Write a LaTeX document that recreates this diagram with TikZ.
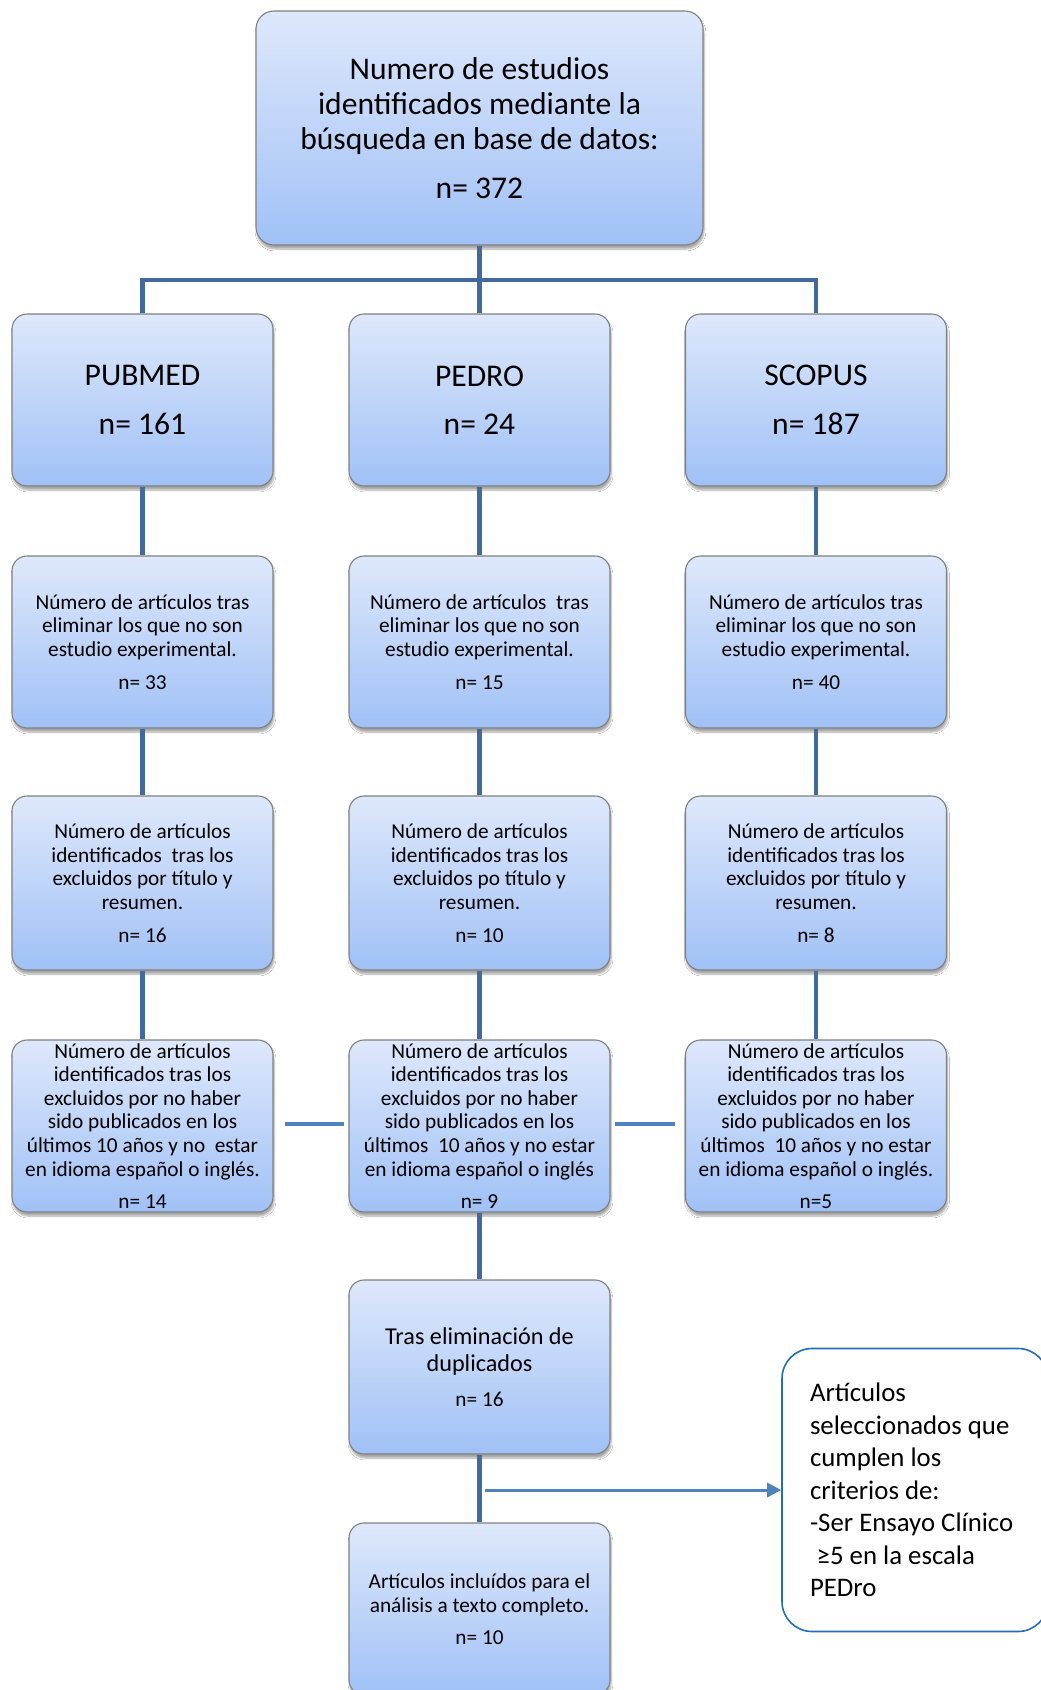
\documentclass[tikz,border=0pt]{standalone}
\usepackage{fontspec}
\setmainfont{Carlito}
\usetikzlibrary{shadows.blur,arrows.meta}
\definecolor{boxtop}{RGB}{222,232,251}
\definecolor{boxbot}{RGB}{160,193,246}
\definecolor{boxline}{RGB}{128,128,128}
\definecolor{conncol}{RGB}{66,106,156}
\definecolor{arrcol}{RGB}{79,129,189}
\definecolor{sidecol}{RGB}{36,110,185}
\tikzset{
  fbox/.style={draw=boxline, line width=1.1pt, rounded corners=15pt,
    top color=boxtop, bottom color=boxbot, align=center, inner sep=0pt,
    minimum width=261pt, minimum height=172pt,
    blur shadow={shadow xshift=1pt, shadow yshift=-4pt, shadow blur steps=6, shadow opacity=35}},
  big/.style={font=\fontsize{31.6}{35}\selectfont},
  small/.style={font=\fontsize{21.3}{23.6}\selectfont},
  conn/.style={draw=conncol, line width=4.5pt},
  lconn/.style={draw=arrcol, line width=4pt},
  side/.style={draw=sidecol, line width=1.6pt, rounded corners=30pt, fill=white,
    minimum width=266pt, minimum height=283pt, inner sep=0pt, align=flush left, text width=210pt,
    font=\fontsize{26.8}{32.5}\selectfont}
}
\begin{document}
\begin{tikzpicture}[x=1pt,y=-1pt]
\useasboundingbox (0,0) rectangle (1041,1690);
\clip (0,0) rectangle (1041,1690);
\fill[white] (0,0) rectangle (1041,1690);

\node[fbox, big, minimum width=447pt, minimum height=234pt, rounded corners=18pt] (top) at (479.5,128)
  {Numero de estudios\\identificados mediante la\\búsqueda en base de datos:\\[13.5pt]n= 372};

\node[fbox, big] (r1a) at (142.5,400) {PUBMED\\[13.5pt]n= 161};
\node[fbox, big] (r1b) at (479.5,400) {PEDRO\\[13.5pt]n= 24};
\node[fbox, big] (r1c) at (816,400) {SCOPUS\\[13.5pt]n= 187};

\node[fbox, small] (r2a) at (142.5,642) {Número de artículos tras\\eliminar los que no son\\estudio experimental.\\[9.5pt]n= 33};
\node[fbox, small] (r2b) at (479.5,642) {Número de artículos\ \ tras\\eliminar los que no son\\estudio experimental.\\[9.5pt]n= 15};
\node[fbox, small] (r2c) at (816,642) {Número de artículos tras\\eliminar los que no son\\estudio experimental.\\[9.5pt]n= 40};

\node[fbox, small, minimum height=174pt] (r3a) at (142.5,883) {Número de artículos\\identificados\ \ tras los\\excluidos por título y\\resumen.\\[9pt]n= 16};
\node[fbox, small, minimum height=174pt] (r3b) at (479.5,883) {Número de artículos\\identificados tras los\\excluidos po título y\\resumen.\\[9pt]n= 10};
\node[fbox, small, minimum height=174pt] (r3c) at (816,883) {Número de artículos\\identificados tras los\\excluidos por título y\\resumen.\\[9pt]n= 8};

\node[fbox, small] (r4a) at (142.5,1126) {Número de artículos\\identificados tras los\\excluidos por no haber\\sido publicados en los\\últimos 10 años y no\ \ estar\\en idioma español o inglés.\\[9pt]n= 14};
\node[fbox, small] (r4b) at (479.5,1126) {Número de artículos\\identificados tras los\\excluidos por no haber\\sido publicados en los\\últimos\ \ 10 años y no estar\\en idioma español o inglés\\[9pt]n= 9};
\node[fbox, small] (r4c) at (816,1126) {Número de artículos\\identificados tras los\\excluidos por no haber\\sido publicados en los\\últimos\ \ 10 años y no estar\\en idioma español o inglés.\\[9pt]n=5};

\node[fbox, minimum height=174pt, font=\fontsize{24.2}{27}\selectfont] (dup) at (479.5,1367)
  {Tras eliminación de\\duplicados\\[8.6pt]\fontsize{21.3}{27}\selectfont n= 16};

\node[fbox, small] (fin) at (479.5,1609) {Artículos incluídos para el\\análisis a texto completo.\\[8.6pt]n= 10};

\node[side] (crit) at (915,1490) {Artículos\\seleccionados que\\cumplen los\\criterios de:\\-Ser Ensayo Clínico\\\hspace*{0.25em}≥5 en la escala\\PEDro};

% connectors
\coordinate (j) at (479.5,280);
\draw[conn] (top.south) -- (r1b.north);
\draw[conn] (r1a.north) |- (j) -| (r1c.north);
\foreach \c in {a,b,c}{
  \draw[conn] (r1\c.south) -- (r2\c.north);
  \draw[conn] (r2\c.south) -- (r3\c.north);
  \draw[conn] (r3\c.south) -- (r4\c.north);
}
\draw[conn] (r4b.south) -- (dup.north);
\draw[conn] (dup.south) -- (fin.north);
\draw[lconn, shorten <=11pt, shorten >=4pt] ([yshift=2pt]r4a.east) -- ([yshift=2pt]r4b.west);
\draw[lconn, shorten <=4pt, shorten >=10pt] ([yshift=2pt]r4b.east) -- ([yshift=2pt]r4c.west);
\coordinate (as) at (485,1490);
\draw[draw=arrcol, line width=3pt, -{Triangle[length=14pt,width=14pt]}] (as) -- (crit.west);
\end{tikzpicture}
\end{document}
